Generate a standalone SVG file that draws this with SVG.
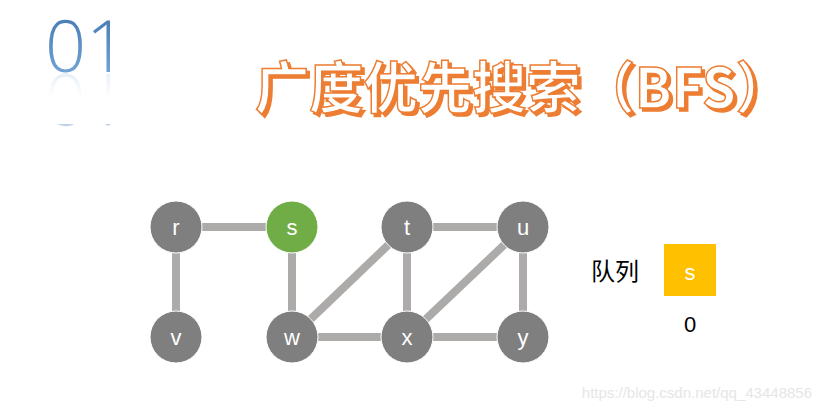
<svg xmlns="http://www.w3.org/2000/svg" width="821" height="412" viewBox="0 0 821 412">
<defs>
<style>
.edge{stroke:#ADAAAA;stroke-width:8;fill:none}
.node circle{fill:#7F7F7F;stroke:#fff;stroke-width:1}
.node text{fill:#fff;font-family:"Liberation Sans","Noto Sans",sans-serif;font-size:22px;text-anchor:middle}
.title{font-family:"Noto Sans CJK SC",sans-serif;font-weight:bold;font-size:56px}
</style>
<linearGradient id="g01" x1="0" y1="0" x2="0" y2="1">
<stop offset="0" stop-color="#3A6EA8"/>
<stop offset="1" stop-color="#7FB0E0"/>
</linearGradient>
<linearGradient id="fade" x1="0" y1="0" x2="0" y2="1">
<stop offset="0" stop-color="#fff" stop-opacity="0.55"/>
<stop offset="0.45" stop-color="#fff" stop-opacity="1"/>
</linearGradient>
<filter id="shadow" x="-5%" y="-20%" width="110%" height="140%">
<feOffset in="SourceAlpha" dx="2.5" dy="2.5" result="off"/>
<feFlood flood-color="#ED7D31"/>
<feComposite in2="off" operator="in" result="sh"/>
<feMerge><feMergeNode in="sh"/><feMergeNode in="SourceGraphic"/></feMerge>
</filter>
</defs>
<rect width="821" height="412" fill="#fff"/>
<g id="num01">
<text id="t01" x="45" y="72" font-family="'Open Sans','Noto Sans',sans-serif" font-weight="300" font-size="72" fill="url(#g01)">01</text>
<use href="#t01" transform="translate(0,146) scale(1,-1)" opacity="0.35"/>
<rect x="40" y="74" width="100" height="50" fill="url(#fade)"/>
</g>
<g id="title" filter="url(#shadow)">
<text class="title" x="255" y="108" fill="#fff" stroke="#ED7D31" stroke-width="1.5" textLength="535" lengthAdjust="spacingAndGlyphs">广度优先搜索（BFS）</text>
</g>
<g id="connectors">
<line class="edge" x1="176" y1="227" x2="292" y2="227"/>
<line class="edge" x1="176" y1="227" x2="176" y2="337"/>
<line class="edge" x1="292" y1="227" x2="292" y2="337"/>
<line class="edge" x1="407" y1="227" x2="523" y2="227"/>
<line class="edge" x1="407" y1="227" x2="292" y2="337"/>
<line class="edge" x1="407" y1="227" x2="407" y2="337"/>
<line class="edge" x1="523" y1="227" x2="407" y2="337"/>
<line class="edge" x1="523" y1="227" x2="523" y2="337"/>
<line class="edge" x1="292" y1="337" x2="407" y2="337"/>
<line class="edge" x1="407" y1="337" x2="523" y2="337"/>
</g>
<g id="node-r" class="node"><circle cx="176" cy="227" r="26"/><text x="176" y="235">r</text></g>
<g id="node-s" class="node"><circle cx="292" cy="227" r="26" style="fill:#70AD47"/><text x="292" y="235">s</text></g>
<g id="node-t" class="node"><circle cx="407" cy="227" r="26"/><text x="407" y="235">t</text></g>
<g id="node-u" class="node"><circle cx="523" cy="227" r="26"/><text x="523" y="235">u</text></g>
<g id="node-v" class="node"><circle cx="176" cy="337" r="26"/><text x="176" y="345">v</text></g>
<g id="node-w" class="node"><circle cx="292" cy="337" r="26"/><text x="292" y="345">w</text></g>
<g id="node-x" class="node"><circle cx="407" cy="337" r="26"/><text x="407" y="345">x</text></g>
<g id="node-y" class="node"><circle cx="523" cy="337" r="26"/><text x="523" y="345">y</text></g>
<g id="queue">
<text x="591" y="280" font-family="'Noto Sans CJK SC',sans-serif" font-size="24" fill="#000">队列</text>
<rect x="664" y="244" width="52" height="52" fill="#FFC000"/>
<text x="690" y="280" font-family="'Liberation Sans',sans-serif" font-size="22" fill="#fff" text-anchor="middle">s</text>
<text x="690" y="332" font-family="'Liberation Sans',sans-serif" font-size="22" fill="#000" text-anchor="middle">0</text>
</g>
<text x="812" y="398" font-family="'Liberation Sans',sans-serif" font-size="15" fill="#E6E6E6" text-anchor="end">https://blog.csdn.net/qq_43448856</text>
</svg>
